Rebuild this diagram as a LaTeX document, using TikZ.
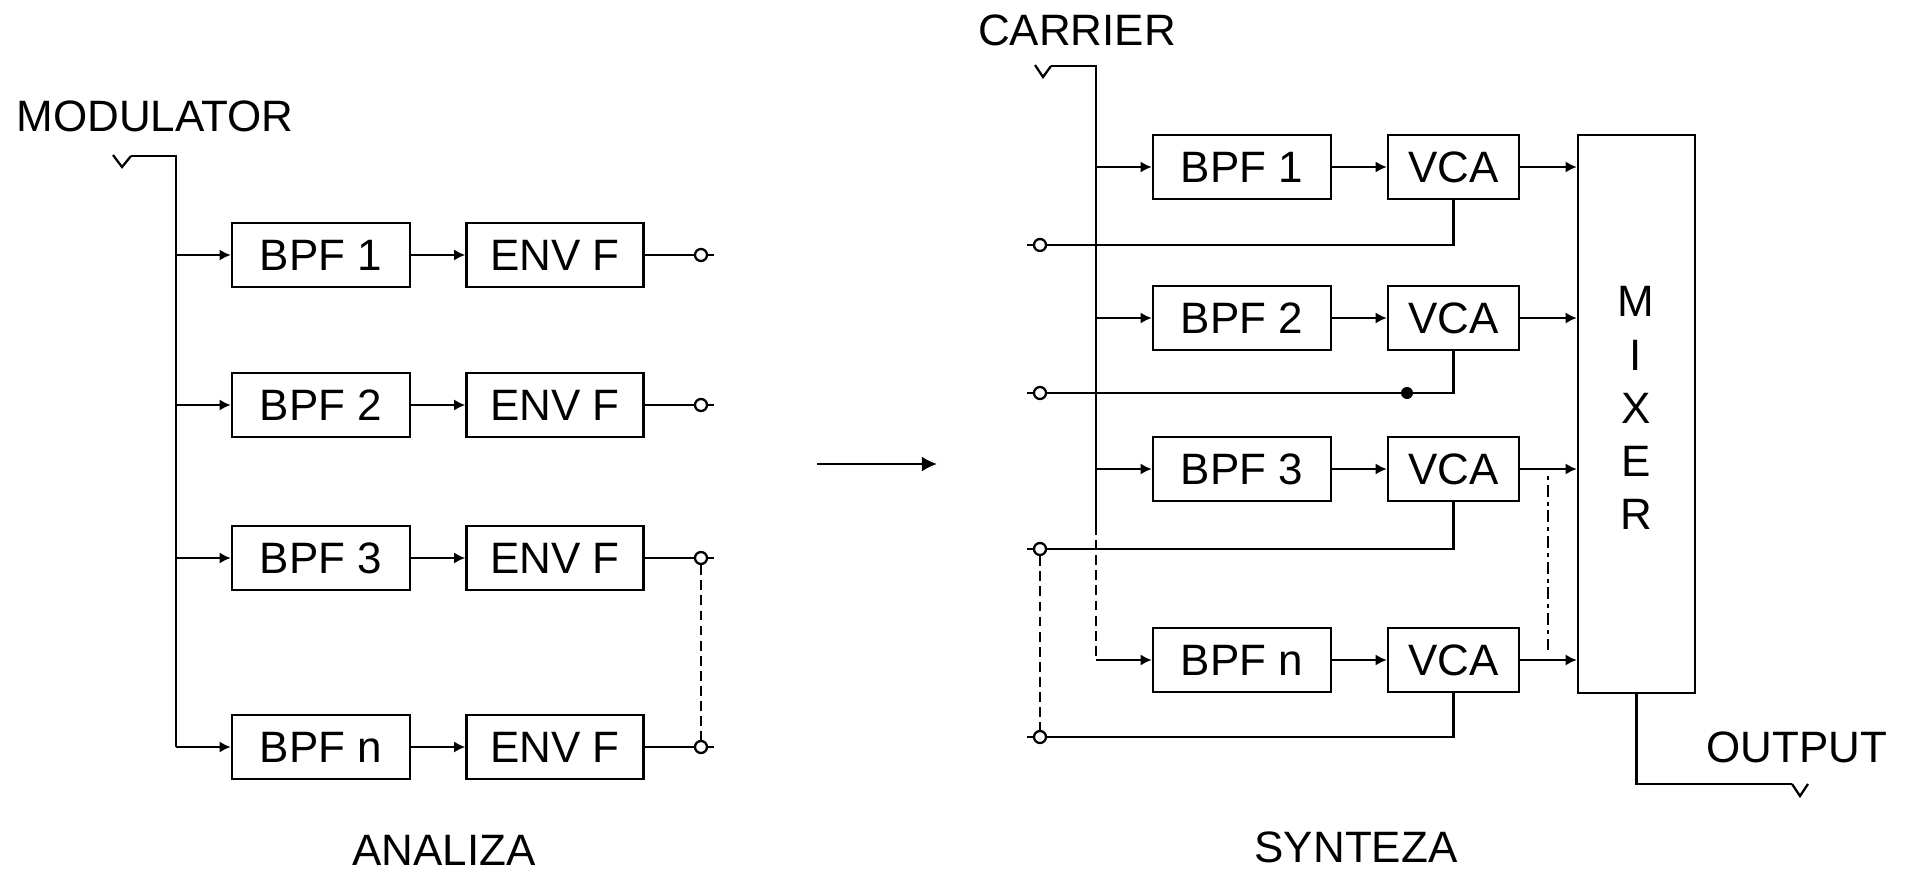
\documentclass[tikz,border=0pt]{standalone}
\usepackage{fontspec}
\setmainfont{Liberation Sans}
\usetikzlibrary{arrows.meta}
\tikzstyle{every picture}=[>={Latex[length=3.2pt,width=3.2pt]},line width=0.65pt]
\tikzstyle{every node}=[font=\fontsize{12.5}{15}\selectfont]
\tikzstyle{bpf}=[draw,minimum width=1.78cm,minimum height=0.64cm,inner sep=0pt]
\tikzstyle{envf}=[draw,minimum width=1.77cm,minimum height=0.64cm,inner sep=0pt]
\tikzstyle{vca}=[draw,minimum width=1.31cm,minimum height=0.64cm,inner sep=0pt]
\tikzstyle{jack}=[circle,draw,fill=white,minimum size=0.12cm,inner sep=0pt]
\tikzstyle{dot}=[circle,fill,minimum size=0.12cm,inner sep=0pt]
\tikzstyle{gap}=[dash pattern=on 2.8pt off 1.5pt]
\tikzstyle{dashdot}=[dash pattern=on 1.1pt off 1.4pt on 3.4pt off 1.4pt]

\begin{document}
\begin{tikzpicture}[x=0.01cm,y=-0.01cm]
    \useasboundingbox (0,0) rectangle (1906,873);

    % Modulator input and bus
    \node (modtxt) at (155,116) {MODULATOR};
    \coordinate (min) at (131,156);
    \coordinate (mbus) at (176,156);
    \coordinate (mend) at (176,747);
    \draw (min) -- ++(-9,11) -- ++(-9,-12);
    \draw (min) -- (mbus) -- (mend);

    % First channel
    \node[bpf] (b1) at (321,255) {BPF 1};
    \node[envf] (e1) at (555,255) {ENV F};
    \node[jack] (o1) at (701,255) {};
    \draw[->] (b1.west -| mbus) -- (b1.west);
    \draw[->] (b1) -- (e1);
    \draw (e1) -- (o1);
    \draw (o1.east) -- ++(6,0);

    % Second channel
    \node[bpf] (b2) at (321,405) {BPF 2};
    \node[envf] (e2) at (555,405) {ENV F};
    \node[jack] (o2) at (701,405) {};
    \draw[->] (b2.west -| mbus) -- (b2.west);
    \draw[->] (b2) -- (e2);
    \draw (e2) -- (o2);
    \draw (o2.east) -- ++(6,0);

    % Third channel
    \node[bpf] (b3) at (321,558) {BPF 3};
    \node[envf] (e3) at (555,558) {ENV F};
    \node[jack] (o3) at (701,558) {};
    \draw[->] (b3.west -| mbus) -- (b3.west);
    \draw[->] (b3) -- (e3);
    \draw (e3) -- (o3);
    \draw (o3.east) -- ++(6,0);

    % Last channel
    \node[bpf] (bn) at (321,747) {BPF n};
    \node[envf] (en) at (555,747) {ENV F};
    \node[jack] (on) at (701,747) {};
    \draw[->] (bn.west -| mbus) -- (bn.west);
    \draw[->] (bn) -- (en);
    \draw (en) -- (on);
    \draw (on.east) -- ++(6,0);
    \draw[gap] (o3) -- (on);

    \node (analiza) at (444,850) {ANALIZA};

    % Arrow between the two halves
    \coordinate (ma) at (817,464);
    \coordinate (mb) at (937,464);
    \draw[-{Latex[length=4.3pt,width=4.3pt]}] (ma) -- (mb);

    % Carrier input and bus
    \node (cartxt) at (1077,30) {CARRIER};
    \coordinate (cin) at (1051,66);
    \coordinate (cbus) at (1096,66);
    \coordinate (cbrk) at (1096,525);
    \draw (cin) -- ++(-8,11) -- ++(-8,-12);
    \draw (cin) -- (cbus) -- (cbrk);

    % Mixer
    \node[draw,minimum width=1.17cm,minimum height=5.58cm,inner sep=0pt] (mix) at (1636.5,414) {};
    \node[align=center,font=\fontsize{12.5}{15.1}\selectfont] (mixtxt) at (1636,408) {M\\I\\X\\E\\R};

    % First band
    \node[bpf] (s1) at (1242,167) {BPF 1};
    \node[vca] (v1) at (1453.5,167) {VCA};
    \node[jack] (k1) at (1040,245) {};
    \draw[->] (s1.west -| cbus) -- (s1.west);
    \draw[->] (s1) -- (v1);
    \draw[->] (v1) -- (v1 -| mix.west);
    \draw (v1.south) -- (v1.south |- k1) -- (k1);
    \draw (k1.west) -- ++(-6,0);

    % Second band
    \node[bpf] (s2) at (1242,318) {BPF 2};
    \node[vca] (v2) at (1453.5,318) {VCA};
    \node[jack] (k2) at (1040,393) {};
    \node[dot] (d2) at (1407,393) {};
    \draw[->] (s2.west -| cbus) -- (s2.west);
    \draw[->] (s2) -- (v2);
    \draw[->] (v2) -- (v2 -| mix.west);
    \draw (v2.south) -- (v2.south |- k2) -- (k2);
    \draw (k2.west) -- ++(-6,0);

    % Third band
    \node[bpf] (s3) at (1242,469) {BPF 3};
    \node[vca] (v3) at (1453.5,469) {VCA};
    \node[jack] (k3) at (1040,549) {};
    \draw[->] (s3.west -| cbus) -- (s3.west);
    \draw[->] (s3) -- (v3);
    \draw[->] (v3) -- (v3 -| mix.west);
    \draw (v3.south) -- (v3.south |- k3) -- (k3);
    \draw (k3.west) -- ++(-6,0);

    % Last band
    \node[bpf] (sn) at (1242,660) {BPF n};
    \node[vca] (vn) at (1453.5,660) {VCA};
    \node[jack] (kn) at (1040,737) {};
    \draw[gap] (cbrk) -- (sn.west -| cbus);
    \draw[->] (sn.west -| cbus) -- (sn.west);
    \draw[->] (sn) -- (vn);
    \draw[->] (vn) -- (vn -| mix.west);
    \draw (vn.south) -- (vn.south |- kn) -- (kn);
    \draw (kn.west) -- ++(-6,0);
    \draw[gap] (k3) -- (kn);

    % Dash-dot link between outputs
    \coordinate (dd1) at (1548,476);
    \coordinate (dd2) at (1548,650);
    \draw[dashdot] (dd1) -- (dd2);

    % Output
    \coordinate (oend) at (1792,784);
    \draw (mix.south) -- (mix.south |- oend) -- (oend);
    \draw (oend) -- ++(8,12) -- ++(8,-12);
    \node (outtxt) at (1797,747) {OUTPUT};

    \node (synteza) at (1356,847) {SYNTEZA};
\end{tikzpicture}
\end{document}
